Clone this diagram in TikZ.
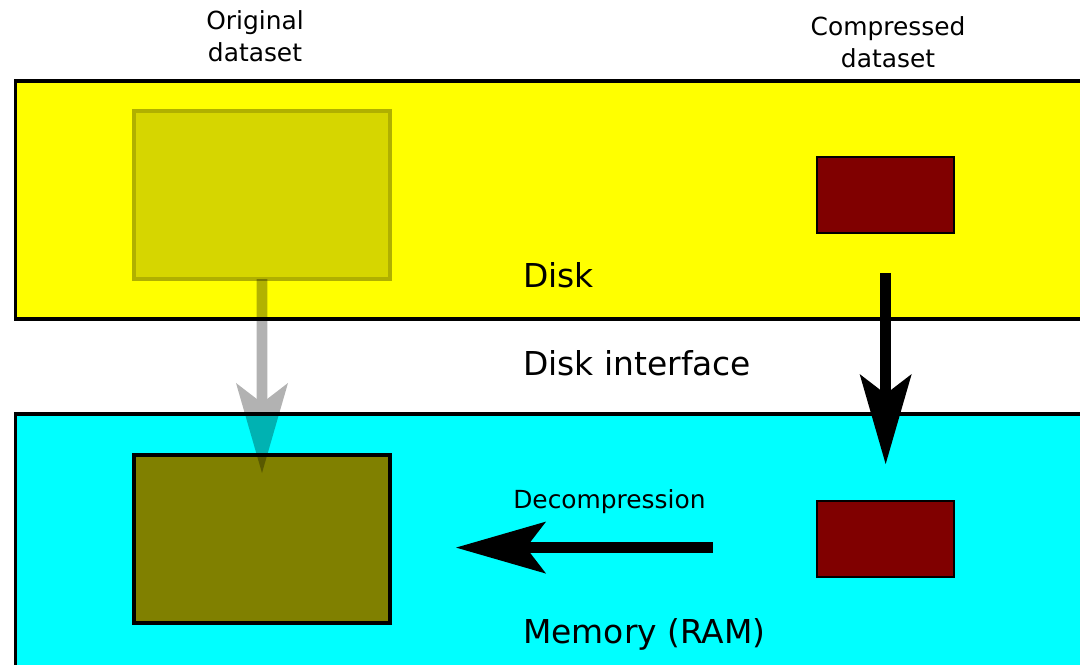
\documentclass[tikz,border=0pt]{standalone}
\usepackage{fontspec}
\setmainfont{DejaVu Sans}
\usepackage{xcolor}
\definecolor{diskYellow}{HTML}{FFFF00}
\definecolor{ramCyan}{HTML}{00FFFF}
\definecolor{rawFill}{HTML}{D6D600}
\definecolor{rawBorder}{HTML}{B0B000}
\definecolor{rawOlive}{HTML}{808000}
\definecolor{packedRed}{HTML}{800000}
\usetikzlibrary{arrows.meta,positioning}
\tikzset{
    layer/.style={
        draw=black,
        rectangle,
        line width=2.3pt,
        minimum width=26.85cm,
        inner sep=0pt,
        outer sep=0pt
    },
    dataset/.style={
        rectangle,
        line width=2.8pt,
        minimum width=6.4cm,
        minimum height=4.2cm,
        inner sep=0pt,
        outer sep=0pt
    },
    packed/.style={
        draw=black,
        fill=packedRed,
        rectangle,
        line width=1.2pt,
        minimum width=3.425cm,
        minimum height=1.9cm,
        inner sep=0pt,
        outer sep=0pt
    },
    arrow/.style={
        -{Stealth[length=2.25cm, width=1.3cm, inset=0.5cm, line width=0pt]},
        line width=0.27cm,
        color=black
    },
    title/.style={
        font=\fontsize{23.4}{28}\selectfont,
        inner sep=0pt,
        anchor=base west
    },
    caption/.style={
        font=\fontsize{17.7}{22.6}\selectfont,
        align=center,
        inner sep=0pt
    }
}

\begin{document}
\begin{tikzpicture}[x=0.025cm, y=-0.025cm]
    \useasboundingbox (0,0) rectangle (1080,665);
    \fill[white] (0,0) rectangle (1080,665);
    \clip (0,0) rectangle (1080,665);

    % Storage layers
    \node[layer, fill=diskYellow, minimum height=5.95cm] (disk) at (553,200) {};
    \node[layer, fill=ramCyan, minimum height=6.65cm] (ram) at (553,547) {};

    % Datasets
    \node[dataset, fill=rawFill, draw=rawBorder] (rawdisk) at (262,195) {};
    \node[dataset, fill=rawOlive, draw=black, below=4.4cm of rawdisk] (rawram) {};
    \node[packed, right=10.675cm of rawdisk] (packdisk) {};
    \node[packed, right=10.675cm of rawram] (packram) {};

    % Texts
    \node[caption] (rawlabel) at (255,36) {Original\\dataset};
    \node[caption] (packlabel) at (888,42.5) {Compressed\\dataset};
    \node[title] (disklabel) at (523,287) {Disk};
    \node[title] (iflabel) at (523,375) {Disk interface};
    \node[title, font=\fontsize{17.7}{22}\selectfont] (declabel) at (513,508) {Decompression};
    \node[title] (ramlabel) at (523,643) {Memory (RAM)};

    % Arrows
    \coordinate (greytip) at (262,473);
    \begin{scope}[transparency group, opacity=0.3]
        \draw[arrow] (rawdisk.south) -- (greytip);
    \end{scope}
    \draw[arrow, shorten <=1cm, shorten >=0.925cm] (packdisk) -- (packram);
    \draw[arrow, shorten <=2.6cm, shorten >=1.65cm]
        ([yshift=-0.2125cm]packram.west) -- ([yshift=-0.2125cm]rawram.east);
\end{tikzpicture}
\end{document}
